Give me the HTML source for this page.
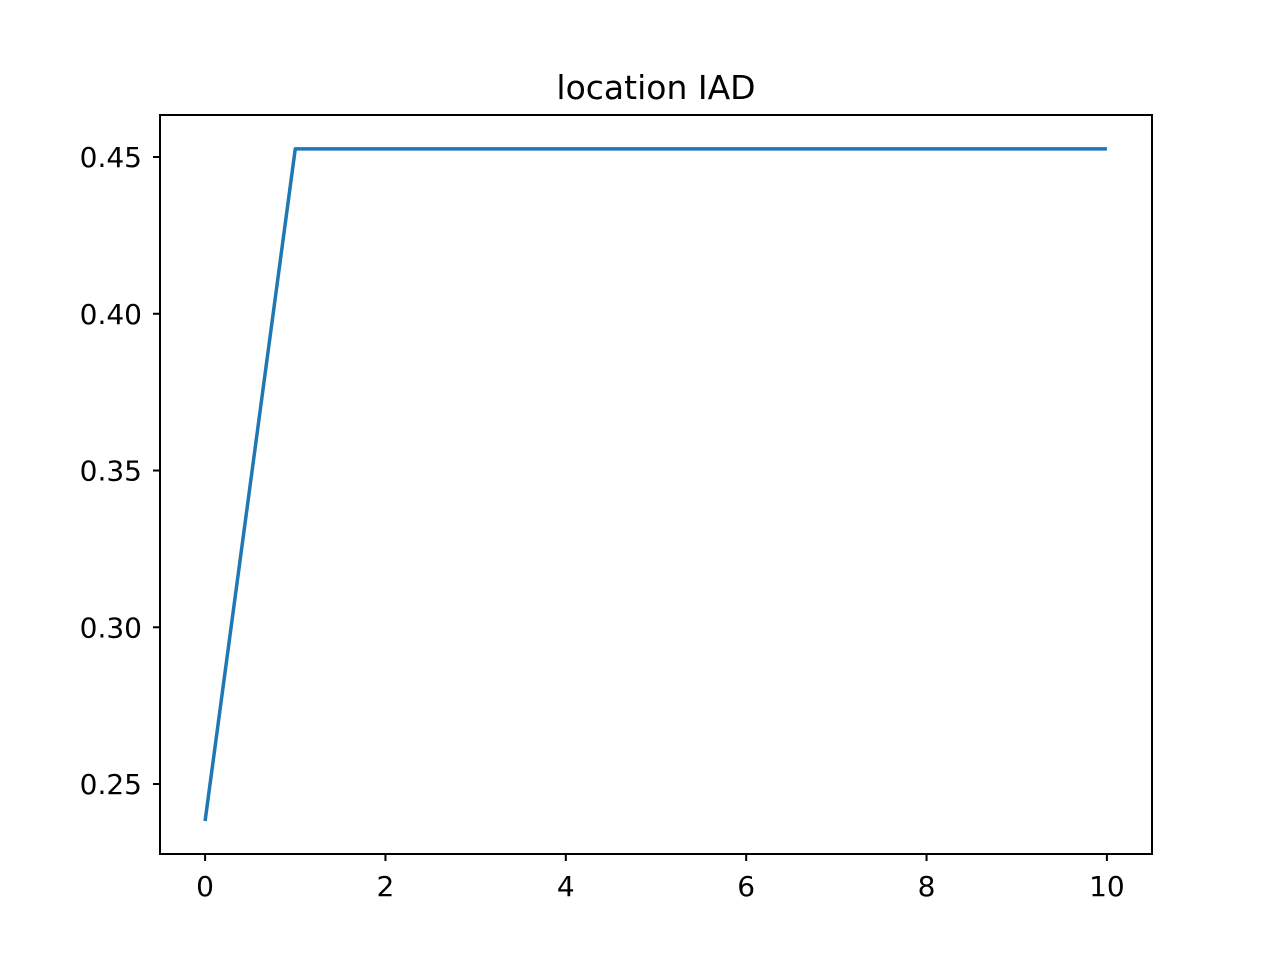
<!DOCTYPE html>
<html><head><meta charset="utf-8"><style>
body{margin:0;background:#fff;}
svg text{font-family:"DejaVu Sans","Liberation Sans",sans-serif;fill:#000;}
</style></head><body>
<svg id="chart" width="1280" height="960" xmlns="http://www.w3.org/2000/svg">
<rect width="1280" height="960" fill="#fff"/>
<text x="656" y="99" font-size="33" text-anchor="middle">location IAD</text>
<g id="ticks"></g>
<path id="line" fill="none" stroke="#1f77b4" stroke-width="3.5" stroke-linejoin="round"/>
<rect x="160" y="115" width="992" height="739" fill="none" stroke="#000" stroke-width="2"/>
</svg>
<script>
const xValues=[0,1,2,3,4,5,6,7,8,9,10];
const yValues=[0.2382,0.4526,0.4526,0.4526,0.4526,0.4526,0.4526,0.4526,0.4526,0.4526,0.4526];
const xTicks=[0,2,4,6,8,10];
const yTicks=[0.25,0.30,0.35,0.40,0.45];
const yTickLabels=["0.25","0.30","0.35","0.40","0.45"];
const L=160,R=1152,T=115,B=854;
const xMin=-0.5,xMax=10.5,yMin=0.22768,yMax=0.46340;
const sx=v=>L+(v-xMin)/(xMax-xMin)*(R-L);
const sy=v=>B-(v-yMin)/(yMax-yMin)*(B-T);
const NS="http://www.w3.org/2000/svg";
const g=document.getElementById('ticks');
xTicks.forEach(t=>{
  const l=document.createElementNS(NS,'line');
  
  
  l.setAttribute('x1',sx(t));l.setAttribute('x2',sx(t));l.setAttribute('y1',B);l.setAttribute('y2',B+7);
  l.setAttribute('stroke','#000');l.setAttribute('stroke-width','2');g.appendChild(l);
  const tx=document.createElementNS(NS,'text');
  
  
  tx.setAttribute('x',sx(t));tx.setAttribute('y',B+42);tx.setAttribute('font-size','28');tx.setAttribute('text-anchor','middle');
  tx.textContent=String(t);g.appendChild(tx);
});
yTicks.forEach((t,i)=>{
  const l=document.createElementNS(NS,'line');
  
  
  l.setAttribute('x1',L-7);l.setAttribute('x2',L);l.setAttribute('y1',sy(t));l.setAttribute('y2',sy(t));
  l.setAttribute('stroke','#000');l.setAttribute('stroke-width','2');g.appendChild(l);
  const tx=document.createElementNS(NS,'text');
  
  
  tx.setAttribute('x',L-18);tx.setAttribute('y',sy(t)+10);tx.setAttribute('font-size','28');tx.setAttribute('text-anchor','end');
  tx.textContent=yTickLabels[i];g.appendChild(tx);
});
document.getElementById('line').setAttribute('d',xValues.map((x,i)=>(i?'L':'M')+sx(x)+' '+sy(yValues[i])).join(' '));
</script>
</body></html>
